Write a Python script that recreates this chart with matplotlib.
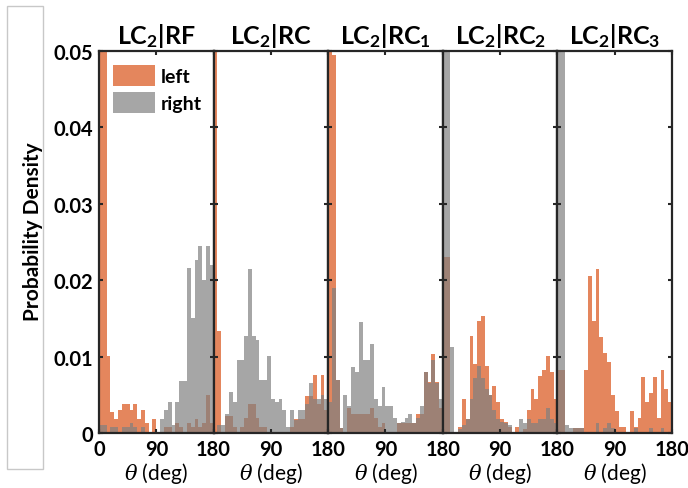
import matplotlib.pyplot as plt
import numpy as np
from matplotlib.patches import Rectangle

plt.rcParams['font.family'] = ['Lato', 'DejaVu Sans']
plt.rcParams['mathtext.fontset'] = 'custom'
plt.rcParams['mathtext.rm'] = 'Lato:bold'
plt.rcParams['mathtext.bf'] = 'Lato:bold'
plt.rcParams['mathtext.it'] = 'DejaVu Serif:italic'

# 30 bins of 6 degrees over 0..180
bin_edges = np.arange(0, 181, 6)

titles = [r'LC$_\mathbf{2}$|RF', r'LC$_\mathbf{2}$|RC', r'LC$_\mathbf{2}$|RC$_\mathbf{1}$',
          r'LC$_\mathbf{2}$|RC$_\mathbf{2}$', r'LC$_\mathbf{2}$|RC$_\mathbf{3}$']

left_rf = [0.06, 0.06, 0.0101, 0.0027, 0.0018, 0.003, 0.0038, 0.0038, 0.003, 0.0038,
           0.0018, 0.003, 0.0013, 0, 0.0018, 0, 0, 0.0008, 0.0008, 0,
           0.0013, 0.0008, 0, 0.0013, 0.0008, 0.0018, 0.0008, 0.0013, 0.005, 0.0013]
right_rf = [0.001, 0.001, 0, 0.0008, 0.0008, 0, 0.0008, 0.0008, 0.0013, 0.0008,
            0, 0.0008, 0, 0, 0, 0, 0.0018, 0.003, 0.004, 0.001,
            0.004, 0.0068, 0.0068, 0.0216, 0.015, 0.0227, 0.0245, 0.02, 0.0245, 0.022]

left_rc = [0.06, 0.0134, 0, 0.0022, 0.0022, 0.0008, 0, 0.0008, 0.002, 0.0038,
           0.0038, 0.002, 0.0008, 0.0008, 0, 0, 0, 0, 0, 0,
           0.0008, 0.0018, 0.0018, 0.0018, 0.0048, 0.0048, 0.0076, 0.0038, 0.0076, 0.003]
right_rc = [0, 0.001, 0.001, 0.0025, 0.0054, 0.004, 0.0096, 0.0096, 0.0127, 0.0215,
            0.0127, 0.0122, 0.007, 0.007, 0.0101, 0.0045, 0.004, 0.0045, 0.003, 0.0008,
            0.003, 0.0017, 0.003, 0.003, 0.0038, 0.0065, 0.0045, 0.0045, 0.005, 0.0045]

left_rc1 = [0.06, 0.0495, 0.007, 0.0007, 0, 0.0033, 0.0025, 0.0025, 0.0025, 0.0025,
            0.0025, 0.0033, 0.002, 0.0008, 0.0013, 0, 0, 0, 0.0013, 0.0013,
            0.0013, 0.0013, 0.0013, 0.0025, 0.0025, 0.008, 0.0067, 0.0103, 0.0067, 0.0033]
right_rc1 = [0.004, 0.019, 0.007, 0.0007, 0.005, 0.0035, 0.0086, 0.008, 0.0145, 0.0096,
             0.0096, 0.0116, 0.0045, 0.0035, 0.006, 0.0035, 0.0035, 0.002, 0.0013, 0.0015,
             0.002, 0.0025, 0.0013, 0.002, 0.0035, 0.008, 0.0065, 0.0096, 0.0065, 0.0045]

left_rc2 = [0.023, 0.023, 0, 0, 0.0008, 0.0044, 0.0018, 0.0127, 0.009, 0.0147,
            0.0153, 0.0088, 0.005, 0.0062, 0.004, 0.0018, 0.0015, 0.0008, 0, 0.0008,
            0, 0.0005, 0.003, 0.0058, 0.0044, 0.0075, 0.0082, 0.0101, 0.008, 0.0044]
right_rc2 = [0.06, 0.06, 0.0113, 0, 0.0005, 0.001, 0.0018, 0.0044, 0.0072, 0.0088,
             0.0072, 0.0058, 0.005, 0.003, 0.0018, 0.0015, 0.0013, 0.001, 0, 0,
             0.0018, 0.0013, 0.0018, 0.0013, 0.0013, 0.0018, 0.0018, 0.0033, 0.0018, 0.0013]

left_rc3 = [0.0082, 0.0082, 0, 0, 0.0006, 0.0006, 0.0006, 0.0082, 0.0205, 0.0147,
            0.0215, 0.0126, 0.0105, 0.0093, 0.005, 0.0029, 0.0008, 0.0008, 0, 0.0029,
            0.0008, 0.002, 0.0073, 0.004, 0.0052, 0.0073, 0.002, 0.0083, 0.0058, 0.004]
right_rc3 = [0.06, 0.06, 0.001, 0.0006, 0.0006, 0.0006, 0.0006, 0, 0, 0,
             0.0013, 0, 0.0006, 0.0013, 0.0006, 0, 0, 0, 0, 0,
             0.0006, 0, 0, 0, 0.0006, 0, 0, 0.0006, 0, 0]

left_all = [left_rf, left_rc, left_rc1, left_rc2, left_rc3]
right_all = [right_rf, right_rc, right_rc1, right_rc2, right_rc3]

orange = '#D95319'
gray = '#808080'
axis_col = '#262626'

fig = plt.figure(figsize=(6.88, 4.89), dpi=100)

# light frame around the y label
fig.patches.append(Rectangle((7/688, 19/489), 36/688, 463/489, transform=fig.transFigure,
                             fill=False, edgecolor='#C8C8C8', linewidth=1))

x0 = 99/688
w = 114.6/688
y0 = 55/489
h = 382/489

for i in range(5):
    ax = fig.add_axes([x0 + i*w, y0, w, h])
    ax.bar(bin_edges[:-1], left_all[i], width=6, align='edge', color=orange,
           alpha=0.7, edgecolor='none', label='left')
    ax.bar(bin_edges[:-1], right_all[i], width=6, align='edge', color=gray,
           alpha=0.7, edgecolor='none', label='right')
    ax.set_xlim(0, 180)
    ax.set_ylim(0, 0.05)
    ax.set_xticks([0, 90, 180])
    if i == 0:
        ax.set_xticklabels(['0', '90', '180'])
    else:
        ax.set_xticklabels(['', '90', '180'])
    ax.set_yticks(np.arange(0, 0.051, 0.01))
    if i == 0:
        ax.set_yticklabels(['0', '0.01', '0.02', '0.03', '0.04', '0.05'])
    else:
        ax.set_yticklabels([])
    ax.tick_params(direction='in', length=3, width=1.5, top=True, right=True,
                   color=axis_col, labelsize=14.5, pad=4)
    for lab in ax.get_xticklabels() + ax.get_yticklabels():
        lab.set_fontweight('bold')
    for sp in ax.spines.values():
        sp.set_color(axis_col)
        sp.set_linewidth(1.6)
    ax.set_title(titles[i], fontsize=18, fontweight='bold', pad=6)
    ax.set_xlabel(r'$\theta$ (deg)', fontsize=15, labelpad=1)
    if i == 0:
        ax.set_ylabel('Probability Density', fontsize=15, fontweight='bold')
        ax.yaxis.set_label_coords(-0.49, 0.53)
        ax.legend(loc='upper left', frameon=False, handlelength=2.2,
                  handleheight=1.3, borderaxespad=0.3, labelspacing=0.3,
                  handletextpad=0.3, prop={'weight': 'bold', 'size': 14})

fig.savefig('out.png', dpi=100)
